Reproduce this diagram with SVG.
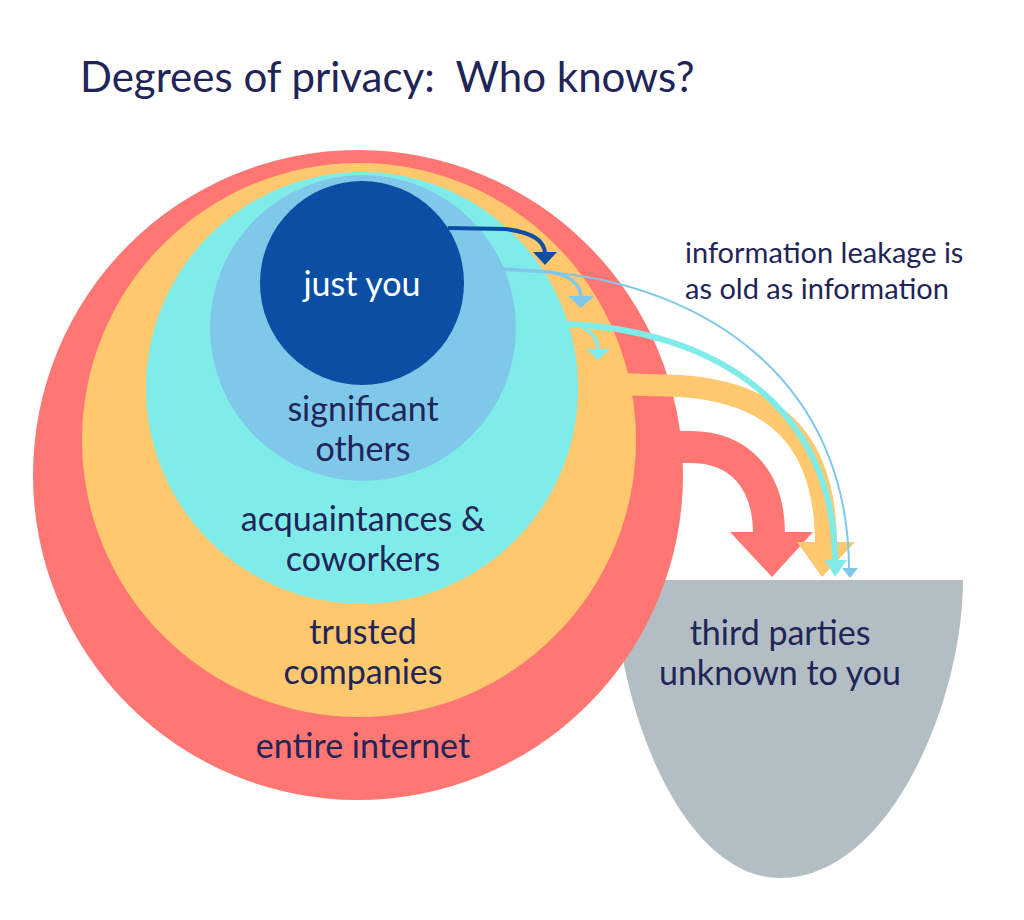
<svg xmlns="http://www.w3.org/2000/svg" width="1024" height="920" viewBox="0 0 1024 920">
<style>
text{font-family:Lato,"Liberation Sans",sans-serif;fill:#1f2557}
.lbl{font-size:34px;text-anchor:middle}
.note{font-size:29px}
.ln{fill:none}
</style>
<rect width="1024" height="920" fill="#ffffff"/>
<text x="80" y="92" font-size="42" xml:space="preserve">Degrees of privacy:  Who knows?</text>
<g id="third-parties">
<path d="M615,580 L963,580 C963,700 890,878 780,878 C680,878 615,700 615,580 Z" fill="#b3bdc4"/>
</g>
<g id="entire-internet"><circle cx="358" cy="475" r="325" fill="#ff7673"/></g>
<g id="trusted-companies"><circle cx="359" cy="440" r="277" fill="#fdc86e"/></g>
<g id="acquaintances"><circle cx="362" cy="388" r="216" fill="#80ece9"/></g>
<g id="significant-others"><circle cx="363" cy="328" r="153" fill="#80c8ea"/></g>
<g id="just-you"><circle cx="362" cy="283" r="102" fill="#0a4fa3"/></g>
<g id="connectors">
<path class="ln" d="M660,447 L690,447 C740,447 769,480 769,534" stroke="#ff7673" stroke-width="32"/>
<polygon points="730,532 813,532 772,577" fill="#ff7673"/>
<path class="ln" d="M615,384 L680,386 C775,392 826,440 826,545" stroke="#fdc86e" stroke-width="22"/>
<polygon points="797,542 855,542 822,577" fill="#fdc86e"/>
<path class="ln" d="M568,324 C705,330 835,400 835,562" stroke="#80ece9" stroke-width="6"/>
<polygon points="825,560 847,560 835,577" fill="#80ece9"/>
<path class="ln" d="M547,272 C705,285 849,380 849,570" stroke="#80c8ea" stroke-width="2"/>
<polygon points="842,568 858,568 850,578" fill="#80c8ea"/>
<path class="ln" d="M448,228 L505,229 C530,232 545,240 545,254" stroke="#0a4fa3" stroke-width="4"/>
<polygon points="533,252 557,252 545,265" fill="#0a4fa3"/>
<path class="ln" d="M502,269 L550,272 C570,275 581,285 581,298" stroke="#80c8ea" stroke-width="3.5"/>
<polygon points="568,296 594,296 581,308" fill="#80c8ea"/>
<path class="ln" d="M568,323 C585,325 598,335 598,350" stroke="#80ece9" stroke-width="3.5"/>
<polygon points="586,349 610,349 598,360" fill="#80ece9"/>
</g>
<g id="labels">
<text class="lbl" x="362" y="296" style="fill:#ffffff">just you</text>
<text class="lbl" x="363" y="421">significant</text>
<text class="lbl" x="363" y="461">others</text>
<text class="lbl" x="363" y="531">acquaintances &amp;</text>
<text class="lbl" x="363" y="571">coworkers</text>
<text class="lbl" x="363" y="644">trusted</text>
<text class="lbl" x="363" y="684">companies</text>
<text class="lbl" x="363" y="758">entire internet</text>
<text class="lbl" x="780" y="645">third parties</text>
<text class="lbl" x="780" y="685">unknown to you</text>
<text class="note" x="685" y="263">information leakage is</text>
<text class="note" x="685" y="299">as old as information</text>
</g>
</svg>
